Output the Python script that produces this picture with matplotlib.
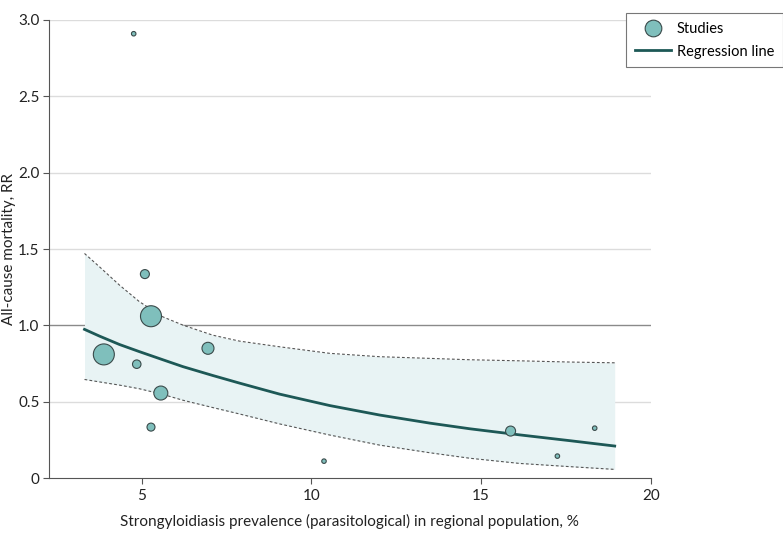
import matplotlib
matplotlib.use("Agg")
import matplotlib.pyplot as plt
from matplotlib.lines import Line2D

plt.rcParams['font.family'] = ['Lato', 'DejaVu Sans']

# studies: prevalence (%), all-cause mortality RR, marker diameter (px)
prevalence = [4.76, 5.09, 5.27, 3.88, 4.85, 6.95, 5.56, 5.27, 15.87, 18.35, 17.25, 10.37]
rr = [2.91, 1.336, 1.06, 0.81, 0.746, 0.85, 0.557, 0.334, 0.308, 0.327, 0.144, 0.111]
diam = [4.5, 9, 21, 21, 8.5, 12, 14, 8, 10, 4.5, 4.5, 4.5]

# regression line and confidence band
fit_x = [3.31, 3.75, 4.34, 4.93, 5.62, 6.21, 7.09, 7.88, 9.06, 10.54, 12.01, 13.49, 14.67, 16.14, 17.62, 18.94]
fit_y = [0.974, 0.93, 0.875, 0.828, 0.775, 0.73, 0.672, 0.622, 0.55, 0.475, 0.413, 0.36, 0.323, 0.283, 0.245, 0.21]
upper = [1.471, 1.384, 1.264, 1.155, 1.056, 1.002, 0.936, 0.897, 0.86, 0.817, 0.795, 0.784, 0.775, 0.768, 0.76, 0.755]
lower = [0.646, 0.63, 0.609, 0.585, 0.548, 0.51, 0.462, 0.42, 0.355, 0.282, 0.216, 0.166, 0.13, 0.096, 0.075, 0.057]

teal = '#7fbfbc'
dark = '#1d5856'

fig = plt.figure(figsize=(7.83, 5.33), dpi=100)
ax = fig.add_axes([0.062, 0.103, 0.769, 0.8595])

for yv in [0.5, 1.5, 2.0, 2.5, 3.0]:
    ax.axhline(yv, color='#dcdcdc', lw=1.0, zorder=0)
ax.axhline(1.0, color='#8a8a8a', lw=1.0, zorder=1)

ax.fill_between(fit_x, lower, upper, color='#e8f3f4', lw=0, zorder=1)
ax.plot(fit_x, upper, ls=(0, (2.5, 2)), color='#555555', lw=0.8, zorder=2)
ax.plot(fit_x, lower, ls=(0, (2.5, 2)), color='#555555', lw=0.8, zorder=2)
ax.plot(fit_x, fit_y, color=dark, lw=2.0, zorder=3, solid_joinstyle='round')

sizes = [(d * 0.72) ** 2 for d in diam]
ax.scatter(prevalence, rr, s=sizes, color=teal, edgecolor='#3a4a4a', lw=0.8, zorder=4)

ax.set_xlim(2.25, 20)
ax.set_ylim(0, 3.0)
ax.set_xticks([5, 10, 15, 20])
ax.set_xticklabels(['5', '10', '15', '20'])
ax.set_yticks([0, 0.5, 1.0, 1.5, 2.0, 2.5, 3.0])
ax.set_yticklabels(['0', '0.5', '1.0', '1.5', '2.0', '2.5', '3.0'])
ax.tick_params(labelsize=11, color='#555555', length=4, labelcolor='#222222')
ax.tick_params(axis='y', pad=2.5)
for s in ['top', 'right']:
    ax.spines[s].set_visible(False)
for s in ['left', 'bottom']:
    ax.spines[s].set_color('#555555')

ax.set_xlabel('Strongyloidiasis prevalence (parasitological) in regional population, %',
              fontsize=11, color='#222222', labelpad=8)
ax.set_ylabel('All-cause mortality, RR', fontsize=11, color='#222222')
ax.yaxis.set_label_coords(-0.054, 0.5)

handles = [Line2D([], [], marker='o', ls='none', markersize=12, markerfacecolor=teal,
                  markeredgecolor='#3a4a4a', markeredgewidth=0.8),
           Line2D([], [], color=dark, lw=2.0)]
leg = fig.legend(handles, ['Studies', 'Regression line'], loc='upper right',
                 bbox_to_anchor=(1.0, 0.9756), borderaxespad=0, fontsize=10.5,
                 fancybox=False, edgecolor='#777777', framealpha=1, borderpad=0.6,
                 handlelength=2.5, handletextpad=0.4, labelspacing=0.6)
leg.get_frame().set_linewidth(0.8)

fig.savefig('out.png', dpi=100)
